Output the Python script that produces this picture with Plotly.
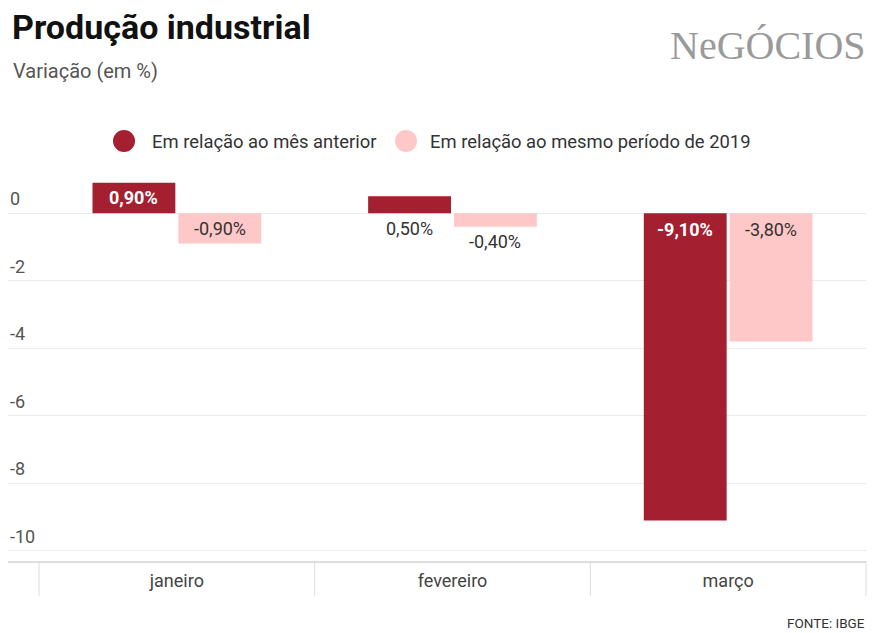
import plotly.graph_objects as go

# Dados: produção industrial, variação (%)
meses = ["janeiro", "fevereiro", "março"]
mes_anterior = [0.9, 0.5, -9.1]
mesmo_periodo_2019 = [-0.9, -0.4, -3.8]
serie_nomes = ["Em relação ao mês anterior", "Em relação ao mesmo período de 2019"]
y_ticks = [0, -2, -4, -6, -8, -10]

COR_ESCURA = "#a41f2f"
COR_CLARA = "#ffc8c8"
FONT = "Roboto"

W, H = 874, 633
M_L, M_R, M_T, M_B = 8, 8, 176, 72
PLOT_W = W - M_L - M_R
PLOT_H = H - M_T - M_B
X_RANGE = [-0.6125, 2.5]
Y_RANGE = [-10.3, 1.1]
BARGAP = 0.377
BARGROUPGAP = 0.035


def px_x(px):
    return (px - M_L) / PLOT_W


def px_y(py):
    return (H - M_B - py) / PLOT_H


def data_x_to_paper(x):
    return (x - X_RANGE[0]) / (X_RANGE[1] - X_RANGE[0])


fig = go.Figure()
xs = list(range(len(meses)))
for nome, vals, cor in [(serie_nomes[0], mes_anterior, COR_ESCURA),
                        (serie_nomes[1], mesmo_periodo_2019, COR_CLARA)]:
    fig.add_trace(go.Bar(x=xs, y=vals, name=nome, marker=dict(color=cor, line=dict(width=0)),
                         hoverinfo="skip", showlegend=False))

annotations = []

# Rótulos de valor
slot = (1 - BARGAP) / 2
for k, (vals, cor_dentro, bold) in enumerate([(mes_anterior, "#ffffff", True),
                                               (mesmo_periodo_2019, "#333333", False)]):
    off = (-slot / 2) if k == 0 else (slot / 2)
    for i, v in enumerate(vals):
        txt = f"{v:.2f}%".replace(".", ",")
        if abs(v) >= 2:
            y, ys, inside = 0, -16, True
        elif abs(v) >= 0.8:
            y, ys, inside = v / 2, 0, True
        else:
            y = 0 if v > 0 else v
            ys, inside = -15, False
        if inside:
            t = f"<b>{txt}</b>" if bold else txt
            col = cor_dentro
        else:
            t, col = txt, "#333333"
        annotations.append(dict(x=i + off, y=y, xref="x", yref="y", text=t, showarrow=False,
                                yshift=ys, xanchor="center", yanchor="middle",
                                font=dict(family=FONT, size=18, color=col)))

# Rótulos do eixo y, acima das linhas de grade
for t in y_ticks:
    annotations.append(dict(x=0, y=t, xref="paper", yref="y", text=str(t), showarrow=False,
                            xanchor="left", yanchor="bottom", yshift=2,
                            font=dict(family=FONT, size=18, color="#555555")))

# Título, subtítulo, fonte e logótipo
annotations += [
    dict(x=px_x(10), y=px_y(27), xref="paper", yref="paper", text="<b>Produção industrial</b>",
         showarrow=False, xanchor="left", yanchor="middle",
         font=dict(family=FONT, size=34, color="#111111")),
    dict(x=px_x(11), y=px_y(71), xref="paper", yref="paper", text="Variação (em %)",
         showarrow=False, xanchor="left", yanchor="middle",
         font=dict(family=FONT, size=20, color="#555555")),
    dict(x=px_x(867), y=px_y(623), xref="paper", yref="paper", text="FONTE: IBGE",
         showarrow=False, xanchor="right", yanchor="middle",
         font=dict(family=FONT, size=13.5, color="#333333")),
    dict(x=px_x(868), y=px_y(45), xref="paper", yref="paper", text="NeGÓCIOS",
         showarrow=False, xanchor="right", yanchor="middle",
         font=dict(family="Liberation Serif", size=40, color="#9a9a9a")),
]

# Legenda
shapes = []
legenda = [(serie_nomes[0], COR_ESCURA, 124, 150), (serie_nomes[1], COR_CLARA, 406, 428)]
for nome, cor, cx, tx in legenda:
    r = 11
    shapes.append(dict(type="circle", xref="paper", yref="paper",
                       x0=px_x(cx - r), x1=px_x(cx + r), y0=px_y(141 + r), y1=px_y(141 - r),
                       fillcolor=cor, line=dict(width=0)))
    annotations.append(dict(x=px_x(tx), y=px_y(141), xref="paper", yref="paper", text=nome,
                            showarrow=False, xanchor="left", yanchor="middle",
                            font=dict(family=FONT, size=18.4, color="#333333")))

# Separadores das categorias abaixo do eixo
for b in [-0.5, 0.5, 1.5, 2.5]:
    xp = data_x_to_paper(b)
    shapes.append(dict(type="line", xref="paper", yref="paper", x0=xp, x1=xp,
                       y0=0, y1=px_y(596), line=dict(color="#dddddd", width=1)))

fig.update_layout(
    width=W, height=H, autosize=False,
    margin=dict(l=M_L, r=M_R, t=M_T, b=M_B, pad=0),
    paper_bgcolor="#ffffff", plot_bgcolor="#ffffff",
    barmode="group", bargap=BARGAP, bargroupgap=BARGROUPGAP,
    xaxis=dict(range=X_RANGE, tickvals=xs, ticktext=meses, showgrid=False, zeroline=False,
               showline=True, linecolor="#dedede", linewidth=2, ticks="",
               ticklabelstandoff=2,
               tickfont=dict(family=FONT, size=18, color="#444444"), fixedrange=True),
    yaxis=dict(range=Y_RANGE, tickvals=y_ticks, showticklabels=False, showgrid=True,
               gridcolor="#ebebeb", gridwidth=1, zeroline=True, zerolinecolor="#ebebeb",
               zerolinewidth=1, showline=False, ticks="", fixedrange=True),
    annotations=annotations, shapes=shapes, showlegend=False,
)

fig.write_html("out.html")
